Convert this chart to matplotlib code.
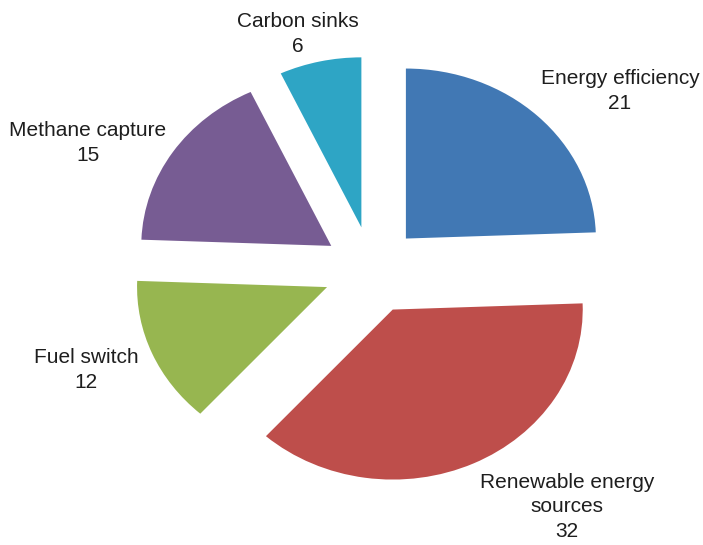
import matplotlib.pyplot as plt

categories = ['Energy efficiency', 'Renewable energy\nsources', 'Fuel switch',
              'Methane capture', 'Carbon sinks']
values = [21, 32, 12, 15, 6]
colors = ['#4178B4', '#BE4E4B', '#97B650', '#775C93', '#2EA5C5']

plt.rcParams['font.family'] = ['Liberation Sans', 'DejaVu Sans']

fig = plt.figure(figsize=(7.03, 5.45), dpi=100)
ax = fig.add_axes([0, 0, 1, 1])

ax.pie(values, colors=colors, startangle=90, counterclock=False,
       explode=[0.257] * len(values), radius=1.0,
       wedgeprops=dict(linewidth=0))

# squash the pie a bit: 190 px per unit across, 170 px per unit up
ax.set_aspect('auto')
ax.set_xlim(-372 / 190, (703 - 372) / 190)
ax.set_ylim(-275 / 170, 270 / 170)
ax.axis('off')

# label block centres in pixels (x from left, y from top)
label_pos = [(620, 91), (567, 507), (86, 370), (88, 143), (298, 34)]
for name, val, (px, py) in zip(categories, values, label_pos):
    fig.text(px / 703, 1 - py / 545, f'{name}\n{val}', ha='center', va='center',
             fontsize=15, color='#1e1e1e', linespacing=1.36)

fig.savefig('out.png', dpi=100)
